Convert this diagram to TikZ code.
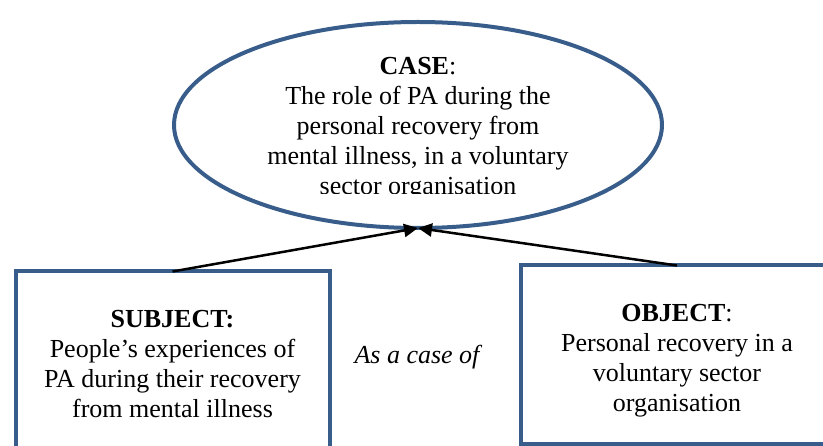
\documentclass[tikz,border=0pt]{standalone}
\usepackage{fontspec}
\setmainfont{Liberation Serif}
\usetikzlibrary{shapes.geometric,arrows.meta}
\definecolor{boxblue}{RGB}{56,93,138}
\begin{document}
\begin{tikzpicture}[x=1pt,y=-1pt,
  shapeline/.style={draw=boxblue,line width=4pt,outer sep=0pt,inner sep=0pt},
  txt/.style={anchor=base,inner sep=0pt,font=\fontsize{26}{30}\selectfont},
  conn/.style={draw=black,line width=2.5pt,-{Triangle[length=14pt,width=13pt]}}]
\useasboundingbox (0,0) rectangle (823,446);
\clip (0,0) rectangle (823,446);
% case ellipse
\node[shapeline,ellipse,minimum width=488pt,minimum height=206pt] (case) at (418,125) {};
\begin{scope}
  \clip (0,0) rectangle (823,193.5);
  \node[txt] (casetext) at (418,75) {\begin{tabular}[t]{@{}c@{}}\textbf{CASE}:\\ The role of PA during the\\ personal recovery from\\ mental illness, in a voluntary\\ sector organisation\end{tabular}};
\end{scope}
% subject box
\node[shapeline,rectangle,minimum width=314pt,minimum height=208pt] (subj) at (172.5,375.5) {};
\node[txt] (subjtext) at (172.5,327.5) {\begin{tabular}[t]{@{}c@{}}\textbf{SUBJECT:}\\ People’s experiences of\\ PA during their recovery\\ from mental illness\end{tabular}};
% object box
\node[shapeline,rectangle,minimum width=313pt,minimum height=178.5pt] (obj) at (677,354.75) {};
\node[txt] (objtext) at (677,321.5) {\begin{tabular}[t]{@{}c@{}}\textbf{OBJECT}:\\ Personal recovery in a\\ voluntary sector\\ organisation\end{tabular}};
% middle label
\node[txt] (ascase) at (417,364) {\itshape As a case of};
% connectors
\draw[conn] (subj.north) -- (case.south);
\draw[conn] (obj.north) -- (case.south);
\end{tikzpicture}
\end{document}
